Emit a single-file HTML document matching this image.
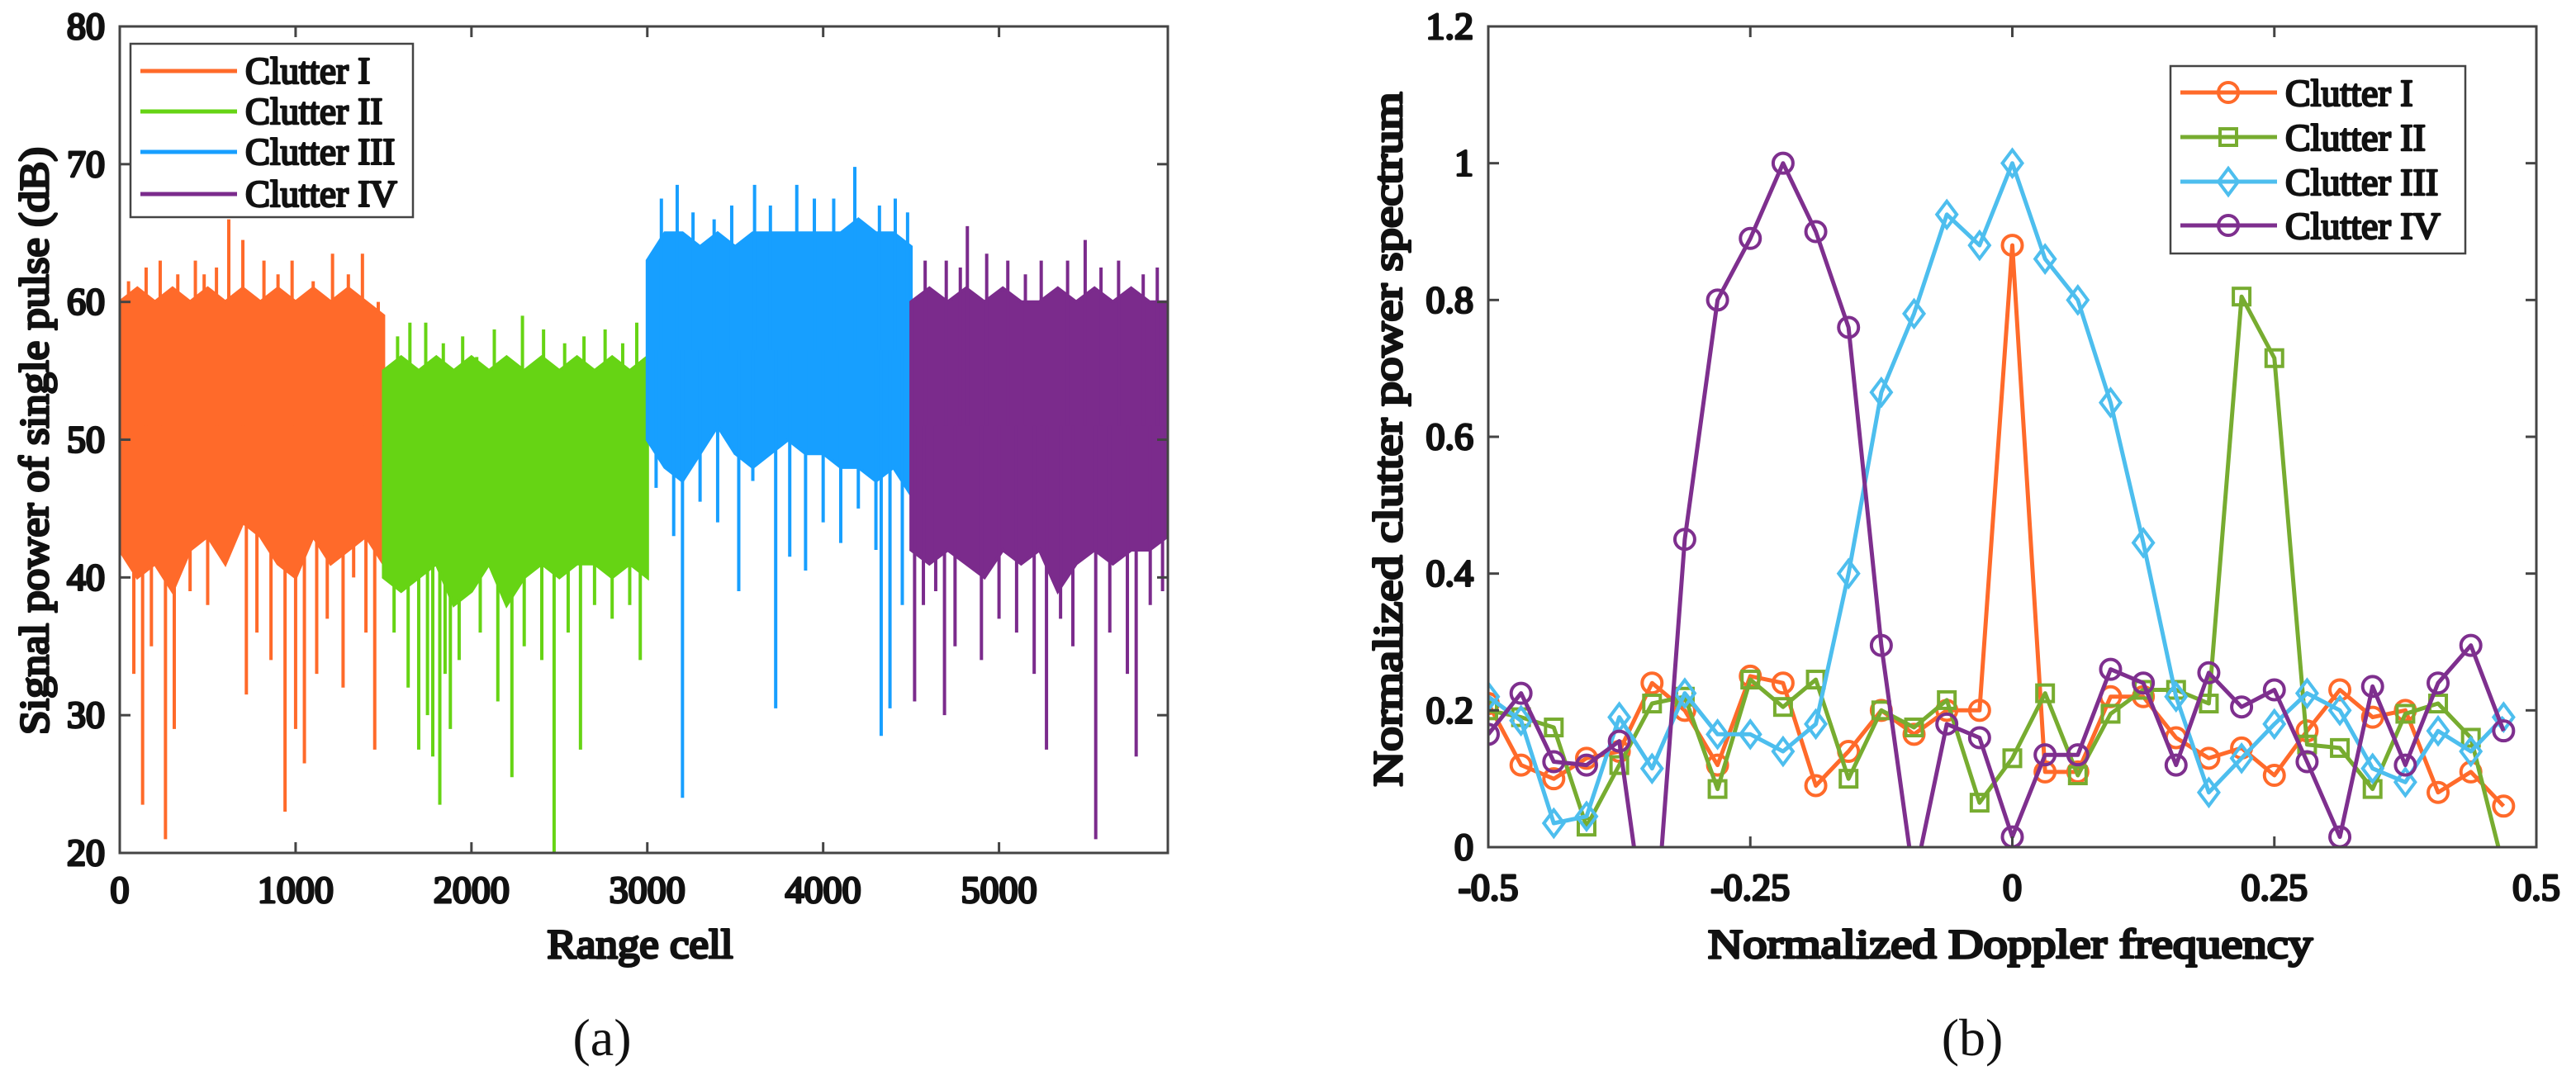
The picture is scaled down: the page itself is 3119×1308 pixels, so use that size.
<!DOCTYPE html>
<html><head><meta charset="utf-8"><style>
html,body{margin:0;padding:0;background:#fff;}
svg, svg text{font-family:"Liberation Serif",serif;}
</style></head><body>
<svg id="s" width="3119" height="1303" viewBox="0 0 3119 1303" xmlns="http://www.w3.org/2000/svg" font-family="Liberation Serif, serif">
<g id="ga"></g>
<g id="gb"></g>
</svg>
<script>
// ---------- Chart (a) data ----------
const aNames = ["Clutter I","Clutter II","Clutter III","Clutter IV"];
const aColors = ["#FF6A2A","#66D414","#179FFF","#7B2B8C"];
const aStarts = [0,1500,3000,4500];
const aEnds = [1500,3000,4500,5960];
const aUpper1 = [60,61,60,61,60,61,60,61,60,61,60,61,60,61,60,59];
const aLower1 = [42,40,41,39,42,43,41,44,43,41,40,43,41,42,43,41];
const aUpper2 = [55,56,55,56,55,56,55,56,55,56,55,56,55,56,55,56];
const aLower2 = [40,39,40,41,38,39,41,38,40,41,40,41,41,40,41,40];
const aUpper3 = [63,65,65,64,65,64,65,65,65,65,65,65,66,65,65,64];
const aLower3 = [50,48,47,49,51,49,48,49,50,49,49,48,48,47,48,46];
const aUpper4 = [60,61,60,61,60,61,60,60,61,60,61,60,61,60,60];
const aLower4 = [42,41,42,41,40,42,41,42,39,41,42,41,42,42,43];
const aSpikeCells1 = [130,260,310,720,940,1050,1450,620,80,180,400,500,560,660,780,860,1000,1120,1180,1270,1330,1400,50,150,230,330,430,480,550,700,820,900,980,1100,1210,1300,1380,1470];
const aSpikeVals1 = [23.5,21,29,31.5,23,26.5,27.5,66,33,35,39,38,44,46,36,34,29,33,37,32,40,36,61.5,62.5,63,62,63,62,62.5,64.5,63,62,63,61.5,63.5,62,63.5,60];
const aSpikeCells2 = [1640,1700,1780,1820,1880,2230,2470,2620,2960,1560,1750,1850,1930,2050,2150,2300,2400,2550,2700,2800,2900,1580,1650,1740,1840,1950,2030,2130,2290,2410,2530,2640,2760,2860,2940];
const aSpikeVals2 = [32,27.5,27,23.5,29,25.5,20,27.5,34,36,30,33,34,36,31,35,34,36,38,37,38,57.5,58.5,58.5,57,57.5,56,58,59,58,57,57.5,58,57,58.5];
const aSpikeCells3 = [3200,3730,3520,4330,4380,3810,3050,3150,3300,3400,3600,3900,4000,4100,4200,4300,4450,3080,3170,3260,3380,3480,3610,3700,3850,3950,4060,4180,4320,4410,4480];
const aSpikeVals3 = [24,30.5,39,28.5,30.5,41.5,46.5,43,45.5,44,47,40.5,44,42.5,45,42,38,67.5,68.5,66.5,66,67,68.5,67,68.5,67.5,67.5,69.8,67,67.5,66.5];
const aSpikeCells4 = [4520,4690,4820,5270,5550,5780,5730,5490,4570,4640,4750,4900,5000,5100,5200,5350,5420,5630,5860,5930,4580,4700,4780,4930,5050,5150,5240,5390,5580,5680,5820,5900];
const aSpikeVals4 = [31,30,65.5,27.5,21,27,33,64.5,38,39,35,34,37,36,33,37,35,36,38,39,63,63,62.5,63.5,63,62,63,63,62.5,63,62,62.5];
const aXTicks = [0,1000,2000,3000,4000,5000];
const aYTicks = [20,30,40,50,60,70,80];

// ---------- Chart (b) data ----------
const bNames = ["Clutter I","Clutter II","Clutter III","Clutter IV"];
const bColors = ["#FF6A2A","#77AC30","#4DBEEE","#7E2F8E"];
const bMarkers = ["circle","square","diamond","circle"];
const bFreq = [];
for (let i=0;i<32;i++) bFreq.push(-0.5+i/32);
const bS1 = [0.21,0.12,0.10,0.13,0.14,0.24,0.20,0.12,0.25,0.24,0.09,0.14,0.20,0.165,0.20,0.20,0.88,0.11,0.11,0.22,0.22,0.16,0.13,0.145,0.105,0.17,0.23,0.19,0.20,0.08,0.11,0.06];
const bS2 = [0.20,0.19,0.175,0.03,0.12,0.21,0.22,0.085,0.245,0.205,0.245,0.10,0.20,0.175,0.215,0.065,0.13,0.225,0.105,0.195,0.23,0.23,0.21,0.805,0.715,0.15,0.145,0.085,0.195,0.21,0.16,-0.03];
const bS3 = [0.22,0.185,0.035,0.045,0.19,0.115,0.225,0.165,0.165,0.14,0.18,0.40,0.665,0.78,0.925,0.88,1.0,0.86,0.80,0.65,0.445,0.22,0.08,0.13,0.18,0.225,0.20,0.115,0.095,0.17,0.14,0.19];
const bS4 = [0.165,0.225,0.125,0.12,0.155,-0.19,0.45,0.80,0.89,1.0,0.90,0.76,0.295,-0.05,0.18,0.16,0.015,0.135,0.135,0.26,0.24,0.12,0.255,0.205,0.23,0.125,0.015,0.235,0.12,0.24,0.295,0.17];
const bXTicks = [-0.5,-0.25,0,0.25,0.5];
const bXTickLabels = ["-0.5","-0.25","0","0.25","0.5"];
const bYTicks = [0,0.2,0.4,0.6,0.8,1,1.2];
const bYTickLabels = ["0","0.2","0.4","0.6","0.8","1","1.2"];

const NS="http://www.w3.org/2000/svg";
const FF="Liberation Serif, serif";
function mk(tag, attrs, parent){const e=document.createElementNS(NS,tag);for(const k in attrs)e.setAttribute(k,attrs[k]);if(tag==='text')e.setAttribute('font-family',FF);if(attrs['class']==='t'){e.setAttribute('fill','#111');e.setAttribute('stroke','#111');e.setAttribute('stroke-width',attrs.sw||'3');e.setAttribute('stroke-linejoin','round');}parent.appendChild(e);return e;}

// ---------- draw chart (a) ----------
(function(){
  const g=document.getElementById('ga');
  const L=145,R=1414,T=32,B=1033, xmin=0,xmax=5960,ymin=20,ymax=80;
  const xs=v=>L+(v-xmin)/(xmax-xmin)*(R-L);
  const ys=v=>B-(v-ymin)/(ymax-ymin)*(B-T);
  const clip=mk('clipPath',{id:'ca'},g); mk('rect',{x:L,y:T,width:R-L,height:B-T},clip);
  const data=mk('g',{'clip-path':'url(#ca)'},g);
  const ups=[aUpper1,aUpper2,aUpper3,aUpper4], los=[aLower1,aLower2,aLower3,aLower4];
  const sc=[aSpikeCells1,aSpikeCells2,aSpikeCells3,aSpikeCells4], sv=[aSpikeVals1,aSpikeVals2,aSpikeVals3,aSpikeVals4];
  for(let s=0;s<4;s++){
    const up=ups[s], lo=los[s], n=up.length, step=(aEnds[s]-aStarts[s])/(n-1);
    let pts=[];
    for(let i=0;i<n;i++) pts.push(xs(aStarts[s]+i*step).toFixed(1)+','+ys(up[i]).toFixed(1));
    for(let i=n-1;i>=0;i--) pts.push(xs(aStarts[s]+i*step).toFixed(1)+','+ys(lo[i]).toFixed(1));
    const p=mk('polygon',{points:pts.join(' '),fill:aColors[s],stroke:aColors[s],'stroke-width':4},data);
    
    
    for(let k=0;k<sc[s].length;k++){
      const v=sv[s][k], mid=(up[0]+lo[0])/2;
      const l=mk('line',{x1:xs(sc[s][k]),x2:xs(sc[s][k]),y1:ys(mid),y2:ys(v),stroke:aColors[s],'stroke-width':4},data);
      
      
    }
  }
  const ax=mk('rect',{x:L,y:T,width:R-L,height:B-T,fill:'none',stroke:'#444','stroke-width':3},g);
   
  aXTicks.forEach(v=>{const x=xs(v);
    mk('line',{x1:x,x2:x,y1:B,y2:B-13,stroke:'#444','stroke-width':3},g);
    mk('line',{x1:x,x2:x,y1:T,y2:T+13,stroke:'#444','stroke-width':3},g);
    const t=mk('text',{x:x,y:1093,'text-anchor':'middle','font-size':46,class:'t'},g); t.textContent=v;
     });
  aYTicks.forEach(v=>{const y=ys(v);
    mk('line',{x1:L,x2:L+13,y1:y,y2:y,stroke:'#444','stroke-width':3},g);
    mk('line',{x1:R,x2:R-13,y1:y,y2:y,stroke:'#444','stroke-width':3},g);
    const t=mk('text',{x:127,y:y+15,'text-anchor':'end','font-size':46,class:'t'},g); t.textContent=v;
     });
  const xt=mk('text',{x:775,y:1160,'text-anchor':'middle','font-size':50,class:'t',textLength:225,lengthAdjust:'spacingAndGlyphs'},g); xt.textContent='Range cell';
   
  const yt=mk('text',{x:0,y:0,'text-anchor':'middle','font-size':50,class:'t',textLength:712,lengthAdjust:'spacingAndGlyphs',transform:'translate(58,534) rotate(-90)'},g); yt.textContent='Signal power of single pulse (dB)';
   
  const cap=mk('text',{x:729,y:1278,'text-anchor':'middle','font-size':64,fill:'#111'},g); cap.textContent='(a)';
   
  const lg=mk('g',{},g);  
  mk('rect',{x:158,y:53,width:342,height:210,fill:'#fff',stroke:'#444','stroke-width':2.5},lg);
  const ly=[86,135,184,235];
  for(let s=0;s<4;s++){
    const e=mk('g',{},lg);  
    mk('line',{x1:170,x2:287,y1:ly[s],y2:ly[s],stroke:aColors[s],'stroke-width':5},e);
    const t=mk('text',{x:297,y:ly[s]+15,'font-size':45,class:'t',sw:'2.5'},e); t.textContent=aNames[s];
  }
})();

// ---------- draw chart (b) ----------
(function(){
  const g=document.getElementById('gb');
  const L=1802,R=3071,T=32,B=1026, xmin=-0.5,xmax=0.5,ymin=0,ymax=1.2;
  const xs=v=>L+(v-xmin)/(xmax-xmin)*(R-L);
  const ys=v=>B-(v-ymin)/(ymax-ymin)*(B-T);
  const clip=mk('clipPath',{id:'cb'},g); mk('rect',{x:L,y:T,width:R-L,height:B-T},clip);
  const data=mk('g',{'clip-path':'url(#cb)'},g);
  const series=[bS1,bS2,bS3,bS4];
  function marker(type,x,y,col,par){
    if(type==='circle') return mk('circle',{cx:x,cy:y,r:12,fill:'none',stroke:col,'stroke-width':4},par);
    if(type==='square') return mk('rect',{x:x-10,y:y-10,width:20,height:20,fill:'none',stroke:col,'stroke-width':4},par);
    return mk('polygon',{points:`${x},${y-16} ${x+12},${y} ${x},${y+16} ${x-12},${y}`,fill:'none',stroke:col,'stroke-width':4},par);
  }
  for(let s=0;s<4;s++){
    const pts=series[s].map((v,i)=>xs(bFreq[i]).toFixed(1)+','+ys(v).toFixed(1)).join(' ');
    const pl=mk('polyline',{points:pts,fill:'none',stroke:bColors[s],'stroke-width':5,'stroke-linejoin':'round'},data);
    
    
    series[s].forEach((v,i)=>{
      const m=marker(bMarkers[s],xs(bFreq[i]),ys(v),bColors[s],data);
      
      
    });
  }
  const ax=mk('rect',{x:L,y:T,width:R-L,height:B-T,fill:'none',stroke:'#444','stroke-width':3},g);
   
  bXTicks.forEach((v,i)=>{const x=xs(v);
    mk('line',{x1:x,x2:x,y1:B,y2:B-13,stroke:'#444','stroke-width':3},g);
    mk('line',{x1:x,x2:x,y1:T,y2:T+13,stroke:'#444','stroke-width':3},g);
    const t=mk('text',{x:x,y:1090,'text-anchor':'middle','font-size':46,class:'t'},g); t.textContent=bXTickLabels[i];
     });
  bYTicks.forEach((v,i)=>{const y=ys(v);
    mk('line',{x1:L,x2:L+13,y1:y,y2:y,stroke:'#444','stroke-width':3},g);
    mk('line',{x1:R,x2:R-13,y1:y,y2:y,stroke:'#444','stroke-width':3},g);
    const t=mk('text',{x:1784,y:y+15,'text-anchor':'end','font-size':46,class:'t'},g); t.textContent=bYTickLabels[i];
     });
  const xt=mk('text',{x:2434,y:1160,'text-anchor':'middle','font-size':50,class:'t',textLength:732,lengthAdjust:'spacingAndGlyphs'},g); xt.textContent='Normalized Doppler frequency';
   
  const yt=mk('text',{x:0,y:0,'text-anchor':'middle','font-size':50,class:'t',textLength:841,lengthAdjust:'spacingAndGlyphs',transform:'translate(1697,532) rotate(-90)'},g); yt.textContent='Normalized clutter power spectrum';
   
  const cap=mk('text',{x:2388,y:1278,'text-anchor':'middle','font-size':64,fill:'#111'},g); cap.textContent='(b)';
   
  const lg=mk('g',{},g);  
  mk('rect',{x:2628,y:80,width:357,height:227,fill:'#fff',stroke:'#444','stroke-width':2.5},lg);
  const ly=[112,166,220,273];
  for(let s=0;s<4;s++){
    const e=mk('g',{},lg);  
    mk('line',{x1:2640,x2:2757,y1:ly[s],y2:ly[s],stroke:bColors[s],'stroke-width':5},e);
    marker(bMarkers[s],2698,ly[s],bColors[s],e);
    const t=mk('text',{x:2767,y:ly[s]+16,'font-size':46,class:'t',sw:'2.5'},e); t.textContent=bNames[s];
  }
})();
</script>
</body></html>
